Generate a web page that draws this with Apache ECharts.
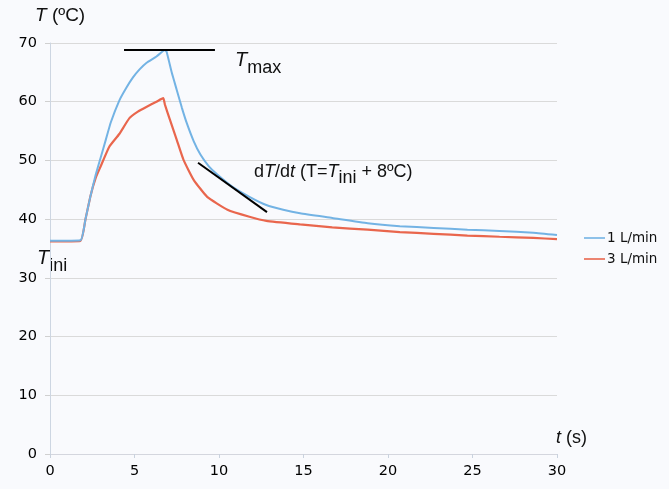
<!DOCTYPE html>
<html>
<head>
<meta charset="utf-8">
<script src="https://cdn.jsdelivr.net/npm/echarts@6/dist/echarts.min.js"></script>
<style>
html,body{margin:0;padding:0;background:#f9fafd;}
#c{width:669px;height:489px;}
</style>
</head>
<body>
<div id="c"></div>
<script>
// ---- data ----
const seriesNames = ['1 L/min', '3 L/min'];
const blueTime = [0,1.8,2.1,2.4,2.7,3.0,3.3,3.6,4.1,4.5,4.9,5.3,5.7,6.3,6.8,6.9,7.2,7.5,7.8,8.1,8.5,8.9,9.4,9.9,10.8,11.8,12.8,13.8,14.8,16.7,18.8,20.7,22.7,24.7,26.6,28.6,30];
const blueTemp = [36.3,36.4,40,44,47.5,50.5,53.5,56.5,60.2,62.3,64.1,65.5,66.6,67.7,68.8,68.5,65,62,59,56.3,53.3,51,49,47.6,45.5,43.8,42.4,41.6,41,40.2,39.3,38.8,38.5,38.2,38,37.7,37.3];
const redTime = [0,1.8,2.1,2.4,2.7,3.0,3.5,4.1,4.7,5.2,5.7,6.3,6.7,6.8,7.1,7.5,7.9,8.5,9.3,10.5,11.8,12.8,14.8,16.7,18.8,20.7,22.7,24.7,26.6,28.6,30];
const redTemp = [36.2,36.3,40,44,47,49,52.3,54.5,57.2,58.3,59.1,60,60.6,59.5,56.9,53.5,50.1,46.7,43.8,41.6,40.4,39.7,39.1,38.6,38.2,37.8,37.5,37.2,37,36.8,36.6];
const xTicks = [0,5,10,15,20,25,30];
const yTicks = [0,10,20,30,40,50,60,70];
const tmaxLine = [[4.38,68.8],[9.76,68.8]];
const tangentLine = [[8.76,49.6],[12.84,41.2]];

const chart = echarts.init(document.getElementById('c'), null, {renderer:'canvas'});
const zip = (a,b) => a.map((v,i)=>[v,b[i]]);
const annFont = '"Liberation Sans", Arial, sans-serif';
const tickFont = '"DejaVu Sans", Verdana, sans-serif';

function sty(size, italic, extra) {
  return Object.assign({fontSize: size, fontFamily: annFont, fontStyle: italic ? 'italic' : 'normal', fill: '#111'}, extra || {});
}

chart.setOption({
  backgroundColor: '#f9fafd',
  animation: false,
  grid: {left: 50, right: 112, top: 43, bottom: 35},
  xAxis: {
    type: 'value', min: xTicks[0], max: xTicks[xTicks.length-1], interval: 5,
    axisLine: {show: true, lineStyle: {color: '#d4d6de', width: 1}},
    axisTick: {show: true, length: 4, lineStyle: {color: '#c9d2de'}},
    splitLine: {show: false},
    axisLabel: {fontFamily: tickFont, fontSize: 14.5, color: '#000', margin: 10}
  },
  yAxis: {
    type: 'value', min: yTicks[0], max: yTicks[yTicks.length-1], interval: 10,
    axisLine: {show: true, lineStyle: {color: '#cdd6e2', width: 1}},
    axisTick: {show: true, length: 5, lineStyle: {color: '#d0d0d0'}},
    splitLine: {show: true, lineStyle: {color: '#dadada', width: 1}},
    axisLabel: {fontFamily: tickFont, fontSize: 14.5, color: '#000', margin: 13}
  },
  legend: {
    orient: 'vertical', left: 579, top: 226, itemWidth: 21, itemHeight: 10, itemGap: 7,
    icon: 'path://M0,4.2 L21,4.2 L21,5.8 L0,5.8 Z',
    textStyle: {fontFamily: tickFont, fontSize: 13.5, color: '#111', padding: [0,0,0,-3]},
    data: seriesNames
  },
  series: [
    {
      name: seriesNames[0], type: 'line', symbol: 'none', smooth: 0.15,
      data: zip(blueTime, blueTemp), z: 3,
      lineStyle: {color: '#73b3e4', width: 2}, itemStyle: {color: '#73b3e4'},
      markLine: {
        silent: true, symbol: 'none', animation: false,
        lineStyle: {color: '#000', width: 2, type: 'solid'}, label: {show: false},
        data: [
          [{coord: tmaxLine[0]}, {coord: tmaxLine[1]}],
          [{coord: tangentLine[0]}, {coord: tangentLine[1]}]
        ]
      }
    },
    {
      name: seriesNames[1], type: 'line', symbol: 'none', smooth: 0.15,
      data: zip(redTime, redTemp), z: 2,
      lineStyle: {color: '#e9664d', width: 2.2}, itemStyle: {color: '#e9664d'}
    }
  ],
  graphic: [
    {type: 'text', left: 35, top: 6, style: {
      text: '{i|T}{n| (ºC)}', fill: '#111',
      rich: {i: sty(19, true), n: sty(19, false)}
    }},
    {type: 'text', left: 235, top: 50, style: {
      text: '{i|T}{s|max}', fill: '#111',
      rich: {
        i: sty(20, true, {verticalAlign: 'bottom', padding: [0,0,7,0]}),
        s: sty(18, false, {verticalAlign: 'bottom'})
      }
    }},
    {type: 'text', left: 254, top: 163, style: {
      text: '{n|d}{i|T}{n|/d}{i|t}{n| (T=}{i|T}{s|ini}{n| + 8ºC)}', fill: '#111',
      rich: {
        n: sty(18, false, {verticalAlign: 'bottom', padding: [0,0,6,0]}),
        i: sty(18, true, {verticalAlign: 'bottom', padding: [0,0,6,0]}),
        s: sty(18, false, {verticalAlign: 'bottom'})
      }
    }},
    {type: 'text', left: 37, top: 248, style: {
      text: '{i|T}{s|ini}', fill: '#111',
      rich: {
        i: sty(20, true, {verticalAlign: 'bottom', padding: [0,0,7,0]}),
        s: sty(18, false, {verticalAlign: 'bottom'})
      }
    }},
    {type: 'text', left: 556, top: 429, style: {
      text: '{i|t}{n| (s)}', fill: '#111',
      rich: {i: sty(18, true), n: sty(18, false)}
    }}
  ]
});
</script>
</body>
</html>
